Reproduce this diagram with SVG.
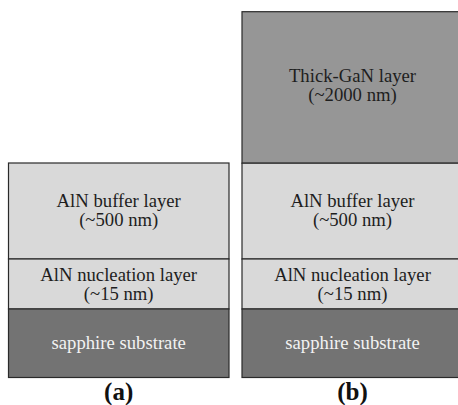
<svg xmlns="http://www.w3.org/2000/svg" width="458" height="405" viewBox="0 0 458 405">
<style>
.layer{stroke:#2a2a2a;stroke-width:1.2}
.light{fill:#d9d9d9}
.gan{fill:#969696}
.sap{fill:#737373}
.t{font-family:"Liberation Serif","Times New Roman",serif;font-size:18.7px;text-anchor:middle;fill:#1e1e1e}
.tw{fill:#f2f2f2}
.lbl{font-family:"Liberation Serif","Times New Roman",serif;font-size:25px;font-weight:bold;text-anchor:middle;fill:#111}
</style>
<rect width="458" height="405" fill="#ffffff"/>
<g id="stack-a">
  <g id="a-buffer">
    <rect class="layer light" x="8.5" y="163" width="220.5" height="96"/>
    <text class="t" x="118.7" y="207">AlN buffer layer</text>
    <text class="t" x="118.7" y="226">(~500 nm)</text>
  </g>
  <g id="a-nucleation">
    <rect class="layer light" x="8.5" y="259" width="220.5" height="50"/>
    <text class="t" x="118.7" y="280.5">AlN nucleation layer</text>
    <text class="t" x="118.7" y="299.5">(~15 nm)</text>
  </g>
  <g id="a-sapphire">
    <rect class="layer sap" x="8.5" y="309" width="220.5" height="68.5"/>
    <text class="t tw" x="118.7" y="349.3">sapphire substrate</text>
  </g>
  <text id="label-a" class="lbl" x="118.7" y="400">(a)</text>
</g>
<g id="stack-b">
  <g id="b-gan">
    <rect class="layer gan" x="242" y="11.7" width="221" height="151.5"/>
    <text class="t" x="352.5" y="81.7">Thick-GaN layer</text>
    <text class="t" x="352.5" y="101">(~2000 nm)</text>
  </g>
  <g id="b-buffer">
    <rect class="layer light" x="242" y="163.2" width="221" height="95.8"/>
    <text class="t" x="352.5" y="207">AlN buffer layer</text>
    <text class="t" x="352.5" y="226">(~500 nm)</text>
  </g>
  <g id="b-nucleation">
    <rect class="layer light" x="242" y="259" width="221" height="50"/>
    <text class="t" x="352.5" y="280.5">AlN nucleation layer</text>
    <text class="t" x="352.5" y="299.5">(~15 nm)</text>
  </g>
  <g id="b-sapphire">
    <rect class="layer sap" x="242" y="309" width="221" height="68.5"/>
    <text class="t tw" x="352.5" y="349.3">sapphire substrate</text>
  </g>
  <text id="label-b" class="lbl" x="352.5" y="400">(b)</text>
</g>
<g id="connectors"/>
</svg>
